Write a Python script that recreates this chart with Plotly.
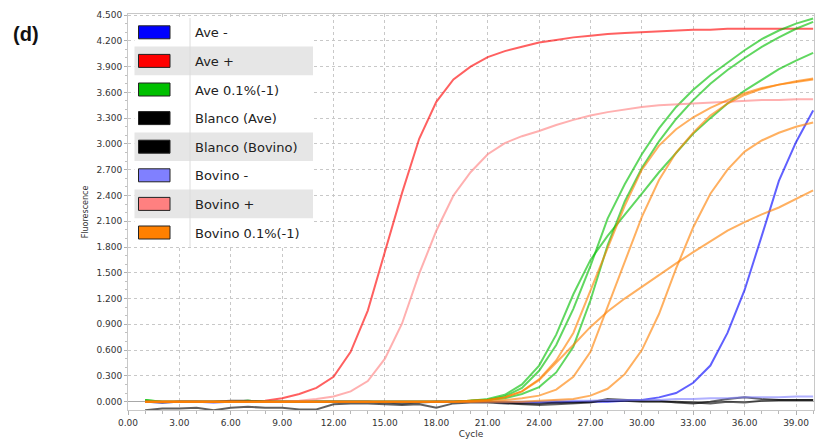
import plotly.graph_objects as go

# Amplification cycles
cycles = list(range(1, 41))

# Fluorescence readings per well
ave_neg = [0.00, -0.01, 0.00, 0.00, -0.01, 0.00, 0.00, 0.00, 0.00, 0.00,
           0.00, 0.00, 0.00, 0.00, 0.00, 0.00, 0.00, 0.00, 0.00, 0.00,
           0.00, -0.01, -0.01, -0.01, -0.01, 0.00, 0.00, 0.00, 0.01, 0.02,
           0.05, 0.10, 0.22, 0.42, 0.80, 1.30, 1.93, 2.57, 3.02, 3.39]
ave_pos = [0.00, 0.00, 0.00, 0.00, 0.00, 0.00, 0.00, 0.01, 0.04, 0.09,
           0.16, 0.29, 0.58, 1.06, 1.75, 2.43, 3.06, 3.49, 3.75, 3.90,
           4.01, 4.08, 4.13, 4.18, 4.21, 4.24, 4.26, 4.28, 4.29, 4.30,
           4.31, 4.32, 4.33, 4.33, 4.34, 4.34, 4.34, 4.34, 4.34, 4.34]
ave_dil_a = [0.02, 0.00, 0.00, 0.00, 0.00, 0.00, 0.01, 0.00, 0.00, 0.00,
             0.00, 0.00, 0.00, 0.00, 0.00, 0.00, 0.00, 0.00, 0.00, 0.01,
             0.03, 0.08, 0.20, 0.42, 0.78, 1.25, 1.65, 1.93, 2.17, 2.42,
             2.67, 2.90, 3.12, 3.30, 3.47, 3.62, 3.75, 3.87, 3.97, 4.06]
ave_dil_b = [0.02, 0.00, 0.00, 0.00, 0.00, 0.00, 0.01, 0.00, 0.00, 0.00,
             0.00, 0.00, 0.00, 0.00, 0.00, 0.00, 0.00, 0.00, 0.00, 0.01,
             0.02, 0.06, 0.16, 0.36, 0.66, 1.08, 1.58, 2.13, 2.53, 2.88,
             3.18, 3.43, 3.63, 3.80, 3.95, 4.09, 4.22, 4.32, 4.40, 4.46]
ave_dil_c = [0.01, 0.00, 0.00, 0.00, 0.00, 0.00, 0.00, 0.00, 0.00, 0.00,
             0.00, 0.00, 0.00, 0.00, 0.00, 0.00, 0.00, 0.00, 0.00, 0.01,
             0.02, 0.04, 0.09, 0.17, 0.34, 0.64, 1.18, 1.82, 2.33, 2.72,
             3.03, 3.29, 3.51, 3.70, 3.86, 4.00, 4.13, 4.24, 4.34, 4.42]
blanco_ave = [0.00, -0.01, 0.00, 0.00, 0.00, 0.01, 0.01, 0.00, 0.00, 0.00,
              0.00, 0.00, 0.00, 0.00, -0.01, -0.02, -0.01, 0.00, 0.00, 0.00,
              0.00, -0.01, -0.02, -0.02, -0.01, -0.01, 0.00, 0.01, 0.01, 0.00,
              0.00, 0.00, -0.01, -0.02, 0.00, -0.01, 0.01, 0.02, 0.02, 0.02]
blanco_bovino = [-0.10, -0.08, -0.08, -0.07, -0.10, -0.07, -0.06, -0.07, -0.07, -0.09,
                 -0.09, -0.03, -0.02, -0.02, -0.03, -0.04, -0.03, -0.07, -0.02, -0.01,
                 -0.01, -0.02, -0.03, -0.04, -0.03, -0.02, -0.01, 0.03, 0.02, 0.01,
                 0.01, -0.01, -0.02, 0.00, 0.03, 0.05, 0.03, 0.02, 0.02, 0.02]
bovino_neg = [0.00, 0.00, 0.00, 0.00, 0.00, 0.00, 0.00, 0.00, 0.00, 0.00,
              0.00, 0.00, 0.00, 0.00, 0.00, 0.00, 0.00, 0.00, 0.00, 0.00,
              0.00, 0.00, 0.00, 0.00, 0.01, 0.01, 0.01, 0.02, 0.02, 0.02,
              0.02, 0.03, 0.03, 0.04, 0.04, 0.05, 0.05, 0.05, 0.06, 0.06]
bovino_pos = [0.00, 0.00, 0.00, 0.00, 0.00, 0.00, 0.00, 0.00, 0.00, 0.01,
              0.03, 0.06, 0.12, 0.24, 0.50, 0.91, 1.49, 1.99, 2.40, 2.67,
              2.88, 3.01, 3.09, 3.15, 3.22, 3.28, 3.33, 3.37, 3.40, 3.43,
              3.45, 3.46, 3.47, 3.48, 3.49, 3.50, 3.51, 3.51, 3.52, 3.52]
bovino_dil_a = [0.00, 0.00, 0.00, 0.00, 0.00, 0.00, 0.00, 0.00, 0.00, 0.00,
                0.00, 0.00, 0.00, 0.00, 0.00, 0.00, 0.00, 0.00, 0.00, 0.01,
                0.02, 0.05, 0.12, 0.26, 0.48, 0.80, 1.30, 1.80, 2.28, 2.70,
                2.98, 3.17, 3.31, 3.42, 3.51, 3.59, 3.65, 3.69, 3.72, 3.75]
bovino_dil_b = [0.00, 0.00, 0.00, 0.00, 0.00, 0.00, 0.00, 0.00, 0.00, 0.00,
                0.00, 0.00, 0.00, 0.00, 0.00, 0.00, 0.00, 0.00, 0.00, 0.00,
                0.01, 0.02, 0.04, 0.07, 0.14, 0.29, 0.58, 1.10, 1.62, 2.15,
                2.58, 2.90, 3.13, 3.33, 3.47, 3.57, 3.64, 3.69, 3.73, 3.76]
bovino_dil_c = [0.00, 0.00, 0.00, 0.00, 0.00, 0.00, 0.00, 0.00, 0.00, 0.00,
                0.00, 0.00, 0.00, 0.00, 0.00, 0.00, 0.00, 0.00, 0.00, 0.00,
                0.00, 0.00, 0.00, 0.01, 0.02, 0.03, 0.07, 0.15, 0.32, 0.60,
                1.02, 1.55, 2.03, 2.42, 2.70, 2.91, 3.04, 3.13, 3.20, 3.25]
bovino_dil_d = [0.00, 0.00, 0.00, 0.00, 0.00, 0.00, 0.00, 0.00, 0.00, 0.00,
                0.00, 0.00, 0.00, 0.00, 0.00, 0.00, 0.00, 0.00, 0.00, 0.01,
                0.02, 0.05, 0.12, 0.25, 0.45, 0.66, 0.87, 1.05, 1.20, 1.34,
                1.48, 1.61, 1.74, 1.87, 1.99, 2.09, 2.18, 2.26, 2.36, 2.46]

# Legend entries and their colours
legend_labels = ["Ave -", "Ave +", "Ave 0.1%(-1)", "Blanco (Ave)",
                 "Blanco (Bovino)", "Bovino -", "Bovino +", "Bovino 0.1%(-1)"]
legend_colors = ["#0000ff", "#ff0000", "#00c000", "#000000",
                 "#000000", "#8080ff", "#ff8080", "#ff8000"]

# Curves grouped under each legend entry
groups = [
    [ave_neg],
    [ave_pos],
    [ave_dil_a, ave_dil_b, ave_dil_c],
    [blanco_ave],
    [blanco_bovino],
    [bovino_neg],
    [bovino_pos],
    [bovino_dil_a, bovino_dil_b, bovino_dil_c, bovino_dil_d],
]

x_ticks = [0, 3, 6, 9, 12, 15, 18, 21, 24, 27, 30, 33, 36, 39]
y_ticks = [round(0.3 * i, 1) for i in range(16)]

fig = go.Figure()
for label, color, curves in zip(legend_labels, legend_colors, groups):
    for values in curves:
        fig.add_trace(go.Scatter(
            x=cycles, y=values, mode="lines", name=label,
            line=dict(color=color, width=2), opacity=0.62,
            showlegend=False, hoverinfo="skip"))

# Figure geometry in pixels
W_FIG, H_FIG = 821, 439
M_L, M_R, M_T, M_B = 128, 7, 14, 29
PLOT_W = W_FIG - M_L - M_R
PLOT_H = H_FIG - M_T - M_B


def px_x(px):
    return (px - M_L) / PLOT_W


def px_y(py):
    return (H_FIG - M_B - py) / PLOT_H


# Table-style legend in the upper-left corner of the plot
shapes = []
annotations = []
row_top, row_h = 18, 28.6
box_l, box_r, divider = 134.5, 313, 190
n_rows = len(legend_labels)
shapes.append(dict(type="rect", xref="paper", yref="paper", layer="above",
                   x0=px_x(box_l), x1=px_x(box_r),
                   y0=px_y(row_top + n_rows * row_h), y1=px_y(row_top),
                   fillcolor="white", line=dict(width=0)))
shaded = {1, 4, 6}
for i, (label, color) in enumerate(zip(legend_labels, legend_colors)):
    top = row_top + i * row_h
    mid = top + row_h / 2
    if i in shaded:
        shapes.append(dict(type="rect", xref="paper", yref="paper", layer="above",
                           x0=px_x(box_l), x1=px_x(box_r),
                           y0=px_y(top + row_h), y1=px_y(top),
                           fillcolor="#e6e6e6", line=dict(width=0)))
    shapes.append(dict(type="rect", xref="paper", yref="paper", layer="above",
                       x0=px_x(138.5), x1=px_x(170),
                       y0=px_y(mid + 6.5), y1=px_y(mid - 6.5),
                       fillcolor=color, line=dict(color="#222222", width=1)))
    annotations.append(dict(text=label, xref="paper", yref="paper",
                            x=px_x(193), y=px_y(mid + 0.5), xanchor="left",
                            yanchor="middle", showarrow=False,
                            font=dict(family="DejaVu Sans", size=13, color="#222222")))
shapes.append(dict(type="line", xref="paper", yref="paper", layer="above",
                   x0=px_x(divider), x1=px_x(divider),
                   y0=px_y(row_top + n_rows * row_h), y1=px_y(row_top),
                   line=dict(color="#dcdcdc", width=1)))

annotations.append(dict(text="<b>(d)</b>", xref="paper", yref="paper",
                        x=px_x(26), y=px_y(34), xanchor="center", yanchor="middle",
                        showarrow=False,
                        font=dict(family="Liberation Sans", size=20, color="#111111")))

tick_font = dict(family="DejaVu Sans", size=9, color="#333333")

fig.update_layout(
    width=W_FIG, height=H_FIG,
    margin=dict(l=M_L, r=M_R, t=M_T, b=M_B),
    paper_bgcolor="white", plot_bgcolor="white",
    shapes=shapes, annotations=annotations,
    showlegend=False,
    xaxis=dict(
        range=[0, 40.05], tickvals=x_ticks, tickformat=".2f",
        automargin=False,
        showgrid=True, gridcolor="#c8c8c8", griddash="dot", gridwidth=1,
        zeroline=False, showline=True, mirror=True, linecolor="#c8c8c8",
        ticks="outside", ticklen=4, tickcolor="#b0b0b0",
        minor=dict(dtick=1, tick0=0, ticks="outside", ticklen=3,
                   tickcolor="#b8b8b8", showgrid=False),
        tickfont=tick_font,
        title=dict(text="Cycle", standoff=7,
                   font=dict(family="DejaVu Sans", size=9, color="#333333")),
    ),
    yaxis=dict(
        range=[-0.097, 4.512], tickvals=y_ticks, tickformat=".3f",
        automargin=False,
        showgrid=True, gridcolor="#c8c8c8", griddash="dot", gridwidth=1,
        zeroline=True, zerolinecolor="#a8a8a8", zerolinewidth=1,
        showline=True, mirror=True, linecolor="#c8c8c8",
        ticks="outside", ticklen=3, tickcolor="#b0b0b0",
        minor=dict(dtick=0.1, tick0=0, ticks="outside", ticklen=2,
                   tickcolor="#c0c0c0", showgrid=False),
        tickfont=tick_font,
        title=dict(text="Fluorescence", standoff=6,
                   font=dict(family="DejaVu Sans", size=8, color="#333333")),
    ),
)

fig.write_html("out.html")
